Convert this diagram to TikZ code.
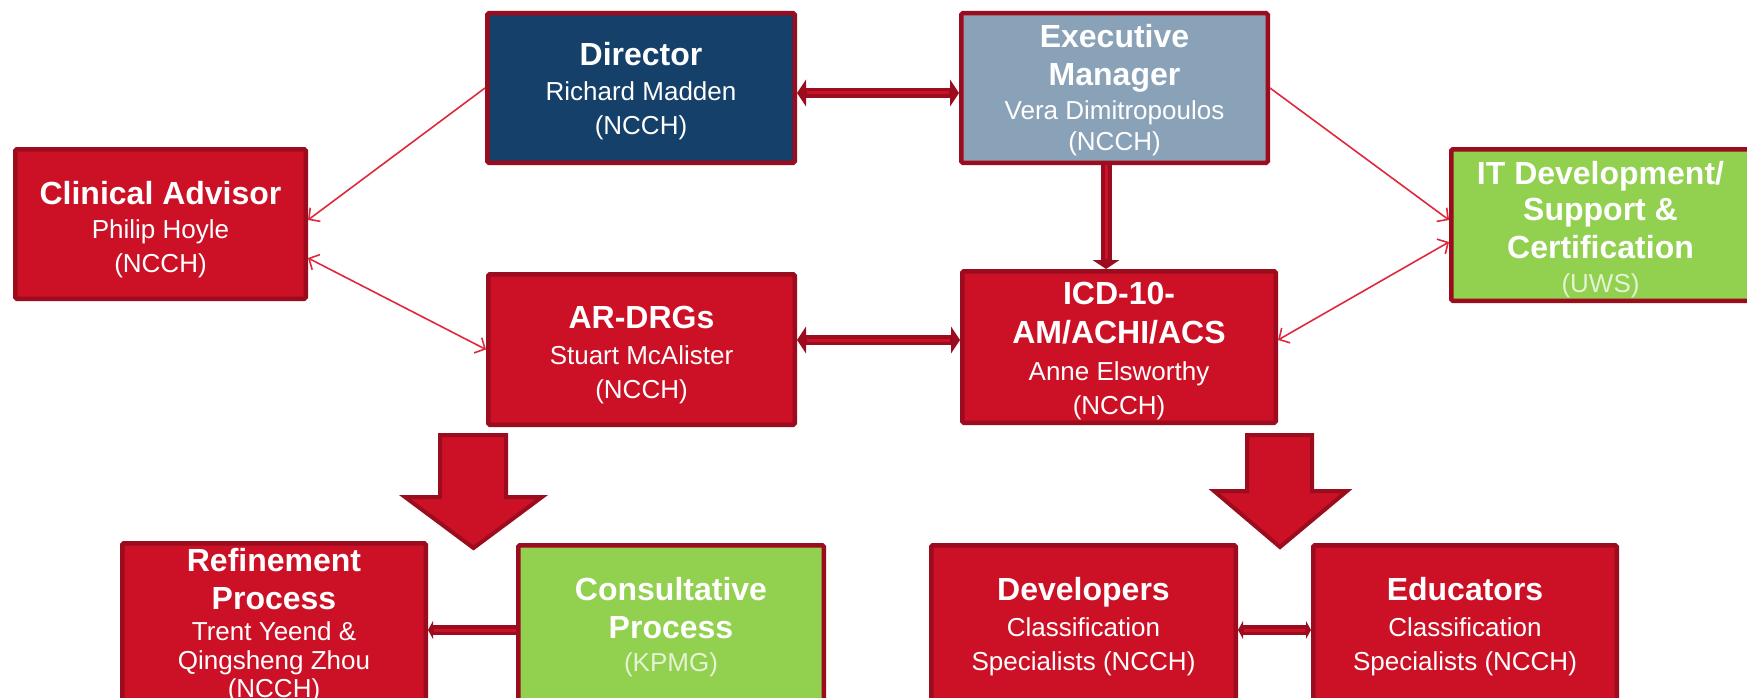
\documentclass[tikz,border=0pt]{standalone}
\usepackage{fontspec}
\setmainfont{Liberation Sans}
\usetikzlibrary{arrows.meta,calc}
\definecolor{boxred}{HTML}{CC1126}
\definecolor{dkred}{HTML}{9B0C1E}
\definecolor{cnavy}{HTML}{14406A}
\definecolor{cslate}{HTML}{8AA2B8}
\definecolor{clime}{HTML}{92D050}
\definecolor{lnred}{HTML}{E0283C}
\definecolor{paletxt}{HTML}{E4F3D2}
\newcommand{\boxttl}[1]{{\fontsize{32}{38}\selectfont\bfseries #1}}
\newcommand{\topgap}[1]{\rule{0pt}{#1pt}}
\tikzset{
  orgbox/.style={rectangle, draw=dkred, line width=4.5pt, fill=boxred, text=white,
    align=center, inner sep=0pt, rounded corners=1.5pt,
    font=\fontsize{26}{34}\selectfont},
  fatone/.style={draw=dkred, line width=11pt, -{Triangle[length=9pt,width=27pt,line width=0pt]},
    postaction={draw=boxred, line width=3pt, -, shorten >=10pt}},
  fattwo/.style={draw=dkred, line width=10pt, {Triangle[length=9pt,width=27pt,line width=0pt]}-{Triangle[length=9pt,width=27pt,line width=0pt]},
    postaction={draw=boxred, line width=3pt, -, shorten >=10pt, shorten <=10pt}},
  smallone/.style={draw=dkred, line width=10pt, -{Triangle[length=5pt,width=18pt,line width=0pt]},
    postaction={draw=boxred, line width=3pt, -, shorten >=6pt}},
  smalltwo/.style={draw=dkred, line width=10pt, {Triangle[length=5pt,width=18pt,line width=0pt]}-{Triangle[length=5pt,width=18pt,line width=0pt]},
    postaction={draw=boxred, line width=3pt, -, shorten >=6pt, shorten <=6pt}},
  thinone/.style={draw=lnred, line width=1.6pt, -{Straight Barb[length=8pt,width=17pt]}},
  thintwo/.style={draw=lnred, line width=1.6pt, {Straight Barb[length=8pt,width=17pt]}-{Straight Barb[length=8pt,width=17pt]}},
  bigarrow/.style={draw=dkred, fill=boxred, line width=4pt, line join=miter},
}
\begin{document}
\begin{tikzpicture}[x=1pt,y=-1pt]
\useasboundingbox (0,0) rectangle (1747,698);
\fill[white] (0,0) rectangle (1747,698);
\clip (0,0) rectangle (1747,698);

% nodes
\node[orgbox, fill=cnavy, minimum width=307.5pt, minimum height=149.5pt] (dir) at (641,88)
  {\topgap{30}\boxttl{Director}\\[1pt] Richard Madden\\ (NCCH)};
\node[orgbox, fill=cslate, minimum width=306.5pt, minimum height=149.5pt] (exe) at (1114.5,88)
  {\topgap{28}\boxttl{Executive}\\[4pt]\boxttl{Manager}\\[0pt] Vera Dimitropoulos\\[-3pt] (NCCH)};
\node[orgbox, minimum width=290.5pt, minimum height=149.5pt] (cli) at (160.5,224)
  {\topgap{34}\boxttl{Clinical Advisor}\\ Philip Hoyle\\ (NCCH)};
\node[orgbox, fill=clime, minimum width=298.5pt, minimum height=151.5pt] (it) at (1600.5,225)
  {\topgap{32}\boxttl{IT Development/}\\[2pt]\boxttl{Support \&}\\[4pt]\boxttl{Certification}\\[0pt]{\color{paletxt}(UWS)}};
\node[orgbox, minimum width=306.5pt, minimum height=150.5pt] (ar) at (641.5,349.5)
  {\topgap{34}\boxttl{AR-DRGs}\\[2pt] Stuart McAlister\\ (NCCH)};
\node[orgbox, minimum width=313.5pt, minimum height=151.5pt] (icd) at (1119,347)
  {\topgap{31}\boxttl{ICD-10-}\\[5pt]\boxttl{AM/ACHI/ACS}\\[3pt] Anne Elsworthy\\ (NCCH)};
\node[orgbox, minimum width=303.5pt, minimum height=155.5pt] (ref) at (274,623)
  {\topgap{28}\boxttl{Refinement}\\[4pt]\boxttl{Process}\\[-3pt] Trent Yeend \&\\[-5pt] Qingsheng Zhou\\[-6pt] (NCCH)};
\node[orgbox, fill=clime, minimum width=305.5pt, minimum height=155.5pt] (con) at (671,623)
  {\topgap{31}\boxttl{Consultative}\\[4pt]\boxttl{Process}\\[-1pt]{\color{paletxt}(KPMG)}};
\node[orgbox, minimum width=304.5pt, minimum height=155.5pt] (dev) at (1083.5,623)
  {\topgap{31}\boxttl{Developers}\\[2pt] Classification\\ Specialists (NCCH)};
\node[orgbox, minimum width=303.5pt, minimum height=155.5pt] (edu) at (1465,623)
  {\topgap{31}\boxttl{Educators}\\[2pt] Classification\\ Specialists (NCCH)};

% thick connectors
\draw[fattwo] ([yshift=-5pt]dir.east) -- ([yshift=-5pt]exe.west);
\coordinate (exeS) at ([xshift=-8.5pt]exe.south);
\draw[fatone] (exeS) -- (exeS |- icd.north);
\coordinate (arE) at ([yshift=9.5pt]ar.east);
\draw[fattwo] (arE) -- (arE -| icd.west);
\draw[smallone] ([yshift=-7pt]con.west) -- ([yshift=-7pt]ref.east);
\draw[smalltwo] ([yshift=-7pt]dev.east) -- ([yshift=-7pt]edu.west);

% thin connectors
\draw[thinone] (dir.west) -- ([yshift=4pt]cli.east);
\draw[thintwo] ([yshift=-34pt]cli.east) -- (ar.west);
\draw[thinone] (exe.east) -- ([yshift=5pt]it.west);
\draw[thintwo] ([yshift=7pt]icd.east) -- ([yshift=-17pt]it.west);

% big block arrows
\draw[bigarrow] (440,435) -- (506,435) -- (506,497) -- (542,497) -- (473.5,548) -- (405,497) -- (440,497) -- cycle;
\draw[bigarrow] (1247,435) -- (1312,435) -- (1312,491) -- (1347,491) -- (1280,547) -- (1214,491) -- (1247,491) -- cycle;
\end{tikzpicture}
\end{document}
